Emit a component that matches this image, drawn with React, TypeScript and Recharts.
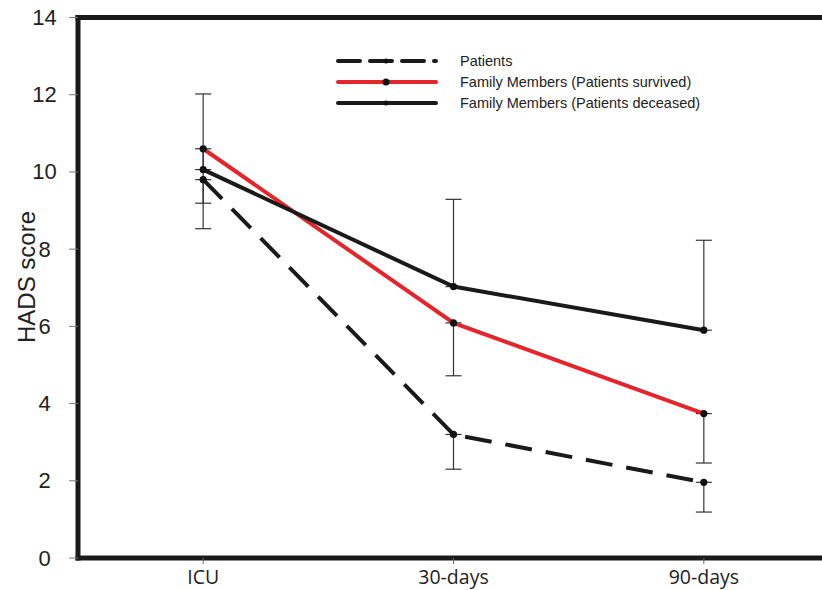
import React from "react";
import {
  LineChart,
  Line,
  XAxis,
  YAxis,
  ErrorBar,
  ReferenceLine,
} from "recharts";

// time points
const categories = ["ICU", "30-days", "90-days"];

// mean HADS scores
const patients = [9.8, 3.2, 1.96];
const familySurvived = [10.6, 6.09, 3.74];
const familyDeceased = [10.06, 7.03, 5.9];

// one-sided error bars (SD) as drawn in the figure
const patientsLowerErr = [1.27, 0.9, 0.77];
const survivedLowerErr = [1.41, 1.37, 1.28];
const deceasedUpperErr = [1.96, 2.26, 2.33];

const yTicks = [0, 2, 4, 6, 8, 10, 12, 14];

const legendItems = [
  { name: "Patients", color: "#1a1a1a", dash: "22 10" },
  { name: "Family Members (Patients survived)", color: "#e3262b", dash: "" },
  { name: "Family Members (Patients deceased)", color: "#1a1a1a", dash: "" },
];

// a hidden helper series sits in the middle of each one-sided bar so that
// ErrorBar only draws caps at the two ends
const data = categories.map((c, i) => ({
  x: i,
  name: c,
  patients: patients[i],
  survived: familySurvived[i],
  deceased: familyDeceased[i],
  pMid: patients[i] - patientsLowerErr[i] / 2,
  pErr: patientsLowerErr[i] / 2,
  sMid: familySurvived[i] - survivedLowerErr[i] / 2,
  sErr: survivedLowerErr[i] / 2,
  dMid: familyDeceased[i] + deceasedUpperErr[i] / 2,
  dErr: deceasedUpperErr[i] / 2,
}));

const AXIS = "#1a1a1a";
const DOT = { r: 3.6, fill: "#111", stroke: "#111", strokeWidth: 0 };

function YTick({ y, payload }: any) {
  return (
    <text
      x={44.5}
      y={y}
      textAnchor="middle"
      dominantBaseline="central"
      fontFamily="Liberation Sans, Arial, sans-serif"
      fontSize={22}
      fill="#222"
    >
      {payload.value}
    </text>
  );
}

function XTick({ x, y, payload }: any) {
  return (
    <text
      x={x}
      y={y + 18}
      textAnchor="middle"
      fontFamily="Open Sans, sans-serif"
      fontSize={19.5}
      fill="#222"
    >
      {categories[payload.value]}
    </text>
  );
}

function YLabel() {
  const cx = 26;
  const cy = 277;
  return (
    <text
      x={cx}
      y={cy}
      transform={`rotate(-90, ${cx}, ${cy})`}
      textAnchor="middle"
      dominantBaseline="central"
      fontFamily="Liberation Sans, Arial, sans-serif"
      fontSize={24}
      fill="#222"
    >
      HADS score
    </text>
  );
}

function ChartLegend() {
  return (
    <svg width={420} height={70}>
      {legendItems.map((it, i) => {
        const cy = 12 + i * 21;
        return (
          <g key={it.name}>
            <line
              x1={4}
              x2={102}
              y1={cy}
              y2={cy}
              stroke={it.color}
              strokeWidth={4}
              strokeDasharray={it.dash || undefined}
              strokeLinecap="round"
            />
            <circle cx={52} cy={cy} r={i === 1 ? 3.5 : 2.5} fill="#111" />
            <text
              x={126}
              y={cy}
              dominantBaseline="central"
              fontFamily="Liberation Sans, Arial, sans-serif"
              fontSize={14.5}
              fill="#222"
            >
              {it.name}
            </text>
          </g>
        );
      })}
    </svg>
  );
}

export default function App() {
  return (
    <div
      style={{
        position: "absolute",
        left: 0,
        top: 0,
        width: 822,
        height: 590,
        overflow: "hidden",
        background: "#fff",
      }}
    >
      <LineChart
        width={840}
        height={590}
        data={data}
        margin={{ top: 17.5, right: 11, bottom: 0, left: 0 }}
      >
        <XAxis
          dataKey="x"
          type="number"
          domain={[-0.5, 2.5]}
          ticks={[0, 1, 2]}
          height={32}
          tick={<XTick />}
          tickSize={6}
          tickLine={{ stroke: "#666", strokeWidth: 1 }}
          axisLine={{ stroke: AXIS, strokeWidth: 5, strokeLinecap: "square" }}
        />
        <YAxis
          domain={[0, 14]}
          ticks={yTicks}
          width={78}
          tick={<YTick />}
          tickSize={9}
          tickLine={{ stroke: "#777", strokeWidth: 1 }}
          axisLine={{ stroke: AXIS, strokeWidth: 5, strokeLinecap: "square" }}
          label={<YLabel />}
        />
        <ReferenceLine
          y={14}
          stroke={AXIS}
          strokeWidth={5}
          strokeLinecap="square"
        />
        <Line
          dataKey="pMid"
          stroke="none"
          dot={false}
          activeDot={false}
          legendType="none"
          isAnimationActive={false}
        >
          <ErrorBar dataKey="pErr" width={8} stroke="#333" strokeWidth={1.2} direction="y" />
        </Line>
        <Line
          dataKey="sMid"
          stroke="none"
          dot={false}
          activeDot={false}
          legendType="none"
          isAnimationActive={false}
        >
          <ErrorBar dataKey="sErr" width={8} stroke="#333" strokeWidth={1.2} direction="y" />
        </Line>
        <Line
          dataKey="dMid"
          stroke="none"
          dot={false}
          activeDot={false}
          legendType="none"
          isAnimationActive={false}
        >
          <ErrorBar dataKey="dErr" width={8} stroke="#333" strokeWidth={1.2} direction="y" />
        </Line>
        <Line
          dataKey="patients"
          stroke="#1a1a1a"
          strokeWidth={4}
          strokeDasharray="27 14"
          dot={DOT}
          activeDot={false}
          isAnimationActive={false}
        />
        <Line
          dataKey="survived"
          stroke="#e3262b"
          strokeWidth={4}
          dot={DOT}
          activeDot={false}
          isAnimationActive={false}
        />
        <Line
          dataKey="deceased"
          stroke="#1a1a1a"
          strokeWidth={4}
          dot={DOT}
          activeDot={false}
          isAnimationActive={false}
        />
      </LineChart>
      <div style={{ position: "absolute", left: 334, top: 49 }}>
        <ChartLegend />
      </div>
    </div>
  );
}
